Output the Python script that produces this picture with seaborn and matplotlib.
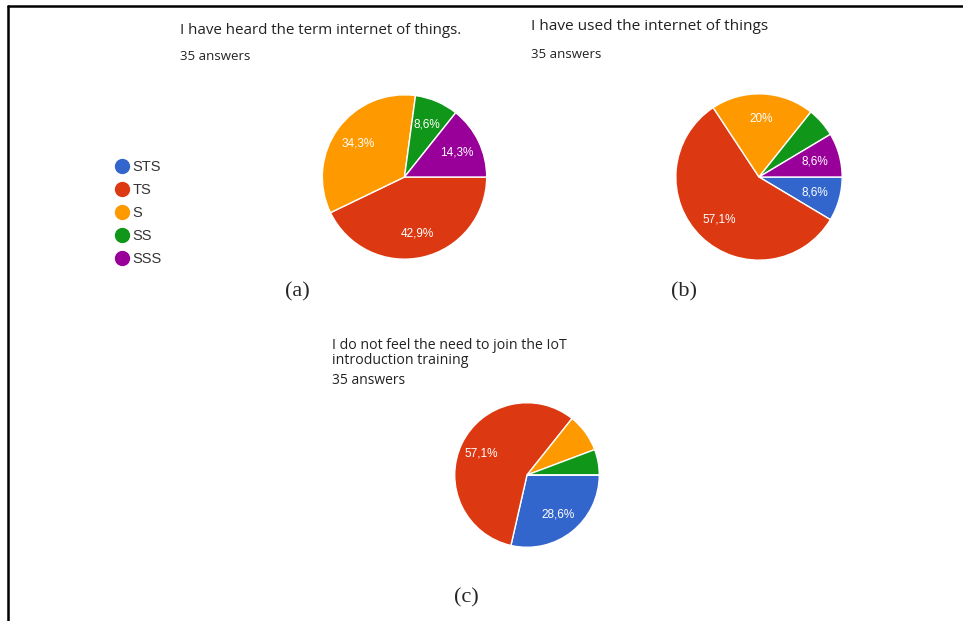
import matplotlib
matplotlib.use("Agg")
import matplotlib.pyplot as plt
from matplotlib.lines import Line2D
import seaborn as sns

# survey answers (35 respondents per question)
categories = ["STS", "TS", "S", "SS", "SSS"]
heard_counts = [0, 15, 12, 3, 5]
used_counts = [3, 20, 7, 2, 3]
training_counts = [10, 20, 3, 2, 0]

titles = ["I have heard the term internet of things.",
          "I have used the internet of things",
          "I do not feel the need to join the IoT\nintroduction training"]
answers_text = "35 answers"
panel_labels = ["(a)", "(b)", "(c)"]

sns.set_theme(style="white")
plt.rcParams['font.family'] = ['Liberation Sans', 'DejaVu Sans']
colors = sns.color_palette(["#3366cc", "#dc3912", "#ff9900", "#109618", "#990099"])

W, H = 963, 621
fig = plt.figure(figsize=(W / 100, H / 100), dpi=100)


def fx(x):
    return x / W


def fy(y):
    return 1 - y / H


def pct_fmt(min_pct):
    def f(p):
        if p < min_pct:
            return ""
        s = f"{p:.1f}".rstrip("0").rstrip(".")
        return s.replace(".", ",") + "%"
    return f


def draw_pie(counts, cx, cy, r, min_pct):
    ax = fig.add_axes([fx(cx - r), fy(cy + r), 2 * r / W, 2 * r / H])
    ax.pie(counts, colors=colors, startangle=0, counterclock=False, radius=1,
           autopct=pct_fmt(min_pct), pctdistance=0.7,
           wedgeprops=dict(edgecolor="white", linewidth=1),
           textprops=dict(color="white", fontsize=8.5))
    ax.set_xlim(-1.01, 1.01)
    ax.set_ylim(-1.01, 1.01)
    ax.set_aspect("equal")
    ax.axis("off")
    return ax


draw_pie(heard_counts, 404.5, 177, 83, 7)
draw_pie(used_counts, 759, 177, 84, 7)
draw_pie(training_counts, 527, 475, 73, 10)

# titles
title_font = ['Open Sans', 'DejaVu Sans']
fig.text(fx(180), fy(30), titles[0], fontsize=10.9, family=title_font, color="#222222", va="center")
fig.text(fx(180), fy(56), answers_text, fontsize=9.5, family=title_font, color="#222222", va="center")
fig.text(fx(531), fy(27), titles[1], fontsize=11.1, family=title_font, color="#222222", va="center")
fig.text(fx(531), fy(54), answers_text, fontsize=9.5, family=title_font, color="#222222", va="center")
fig.text(fx(332), fy(353), titles[2], fontsize=10.2, family=title_font, color="#222222",
         va="center", linespacing=0.95)
fig.text(fx(332), fy(380), answers_text, fontsize=10, family=title_font, color="#222222", va="center")

# panel labels
serif = ['Liberation Serif', 'DejaVu Serif']
fig.text(fx(297), fy(292), panel_labels[0], fontsize=16, family=serif, ha="center", va="center")
fig.text(fx(684), fy(292), panel_labels[1], fontsize=16, family=serif, ha="center", va="center")
fig.text(fx(466), fy(598), panel_labels[2], fontsize=16, family=serif, ha="center", va="center")

# legend
handles = [Line2D([0], [0], marker="o", linestyle="", markersize=10,
                  markerfacecolor=c, markeredgecolor=c) for c in colors]
fig.legend(handles, categories, loc="upper left", bbox_to_anchor=(fx(116), fy(160)),
           frameon=False, fontsize=10.5, handlelength=0.8, handletextpad=0.35,
           labelspacing=0.62, borderpad=0, borderaxespad=0, labelcolor="#333333")

# frame of the composite figure
fig.add_artist(Line2D([fx(8), fx(8)], [fy(6), 0], color="black", linewidth=1.8))
fig.add_artist(Line2D([fx(8), 1], [fy(6), fy(6)], color="black", linewidth=1.8))

fig.savefig("out.png", dpi=100, facecolor="white")
